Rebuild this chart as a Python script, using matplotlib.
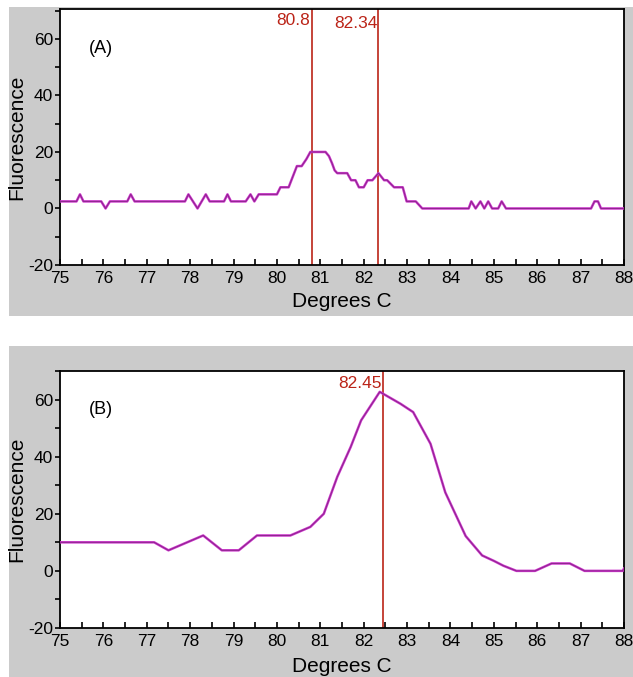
import matplotlib

matplotlib.use("Agg")
from matplotlib import pyplot as plt
from matplotlib.patches import Rectangle
from matplotlib.ticker import MultipleLocator

# Panel (A): stepped melt curve
A_TEMPS = [75.0, 75.38, 75.46, 75.54, 75.95, 76.05, 76.15, 76.55, 76.63, 76.72,
           77.88, 77.96, 78.17, 78.36, 78.45, 78.78, 78.86, 78.94, 79.28, 79.39,
           79.48, 79.58, 80.0, 80.08, 80.27, 80.46, 80.57, 80.68, 80.77, 81.12,
           81.2, 81.27, 81.33, 81.39, 81.62, 81.71, 81.81, 81.89, 82.0, 82.09,
           82.2, 82.34, 82.47, 82.54, 82.7, 82.9, 82.99, 83.2, 83.35, 84.42,
           84.48, 84.58, 84.69, 84.78, 84.87, 84.96, 85.1, 85.18, 85.28, 87.24,
           87.32, 87.4, 87.47, 88.0]
A_FLUOR = [2.5, 2.5, 5, 2.5, 2.5, 0, 2.5, 2.5, 5, 2.5,
           2.5, 5, 0, 5, 2.5, 2.5, 5, 2.5, 2.5, 5,
           2.5, 5, 5, 7.5, 7.5, 15, 15, 17.5, 20, 20,
           18.5, 16, 13.5, 12.5, 12.5, 10, 10, 7.5, 7.5, 10,
           10, 12.5, 10, 10, 7.5, 7.5, 2.5, 2.5, 0, 0,
           2.5, 0, 2.5, 0, 2.5, 0, 0, 2.5, 0, 0,
           2.5, 2.5, 0, 0]
A_MARKS = [80.8, 82.34]
A_MARK_LABELS = ['80.8', '82.34']

# Panel (B): smooth melt curve
B_TEMPS = [75.0, 77.17, 77.5, 78.3, 78.73, 79.12, 79.54, 80.31, 80.77, 81.08,
           81.39, 81.7, 81.94, 82.37, 82.45, 82.85, 83.14, 83.54, 83.88, 84.35,
           84.73, 85.0, 85.22, 85.52, 85.95, 86.33, 86.75, 87.09, 87.97, 88.0]
B_FLUOR = [10, 10, 7.2, 12.4, 7.2, 7.2, 12.4, 12.4, 15.4, 20,
           32.9, 43.4, 52.7, 62.7, 62, 58.5, 55.6, 44.5, 27.5, 12.2,
           5.4, 3.5, 1.8, 0, 0, 2.6, 2.6, 0, 0, 0.8]
B_MARKS = [82.45]
B_MARK_LABELS = ['82.45']

X_TICKS = list(range(75, 89))
Y_TICKS = [-20, 0, 20, 40, 60]

FONT = ['Liberation Sans', 'DejaVu Sans']
MARK_COLOR = '#bb2418'
LINE_COLOR = '#cc35cc'
GRAY = '#cbcbcb'


def draw_panel(ax, temps, fluor, marks, mark_labels, mark_y, tag, ylim_top):
    """
    Draw one melt curve panel
    :param ax: The axes to draw on
    :param temps: The temperatures
    :param fluor: The fluorescence values
    :param marks: Temperatures of the red marker lines
    :param mark_labels: Labels of the red marker lines
    :param mark_y: Heights of the marker labels
    :param tag: The panel tag
    :param ylim_top: Upper y limit
    """
    ax.set_zorder(2)
    ax.set_facecolor('white')
    ax.plot(temps, fluor, color=LINE_COLOR, lw=1.8, solid_joinstyle='round', zorder=3)
    ax.plot(temps, fluor, color='#301030', lw=0.7, alpha=0.4, zorder=4)

    for mark, label, y in zip(marks, mark_labels, mark_y):
        ax.axvline(mark, color=MARK_COLOR, lw=1.2, zorder=2)
        ax.text(mark - 0.03, y, label, color=MARK_COLOR, fontsize=12.5,
                ha='right', va='center', family=FONT)

    ax.text(75.95, 56.5, tag, fontsize=13, ha='center', va='center', family=FONT)

    ax.set_xlim(75, 88)
    ax.set_ylim(-20, ylim_top)
    ax.set_xticks(X_TICKS)
    ax.set_xticklabels([str(t) for t in X_TICKS], family=FONT, fontsize=12.5)
    ax.set_yticks(Y_TICKS)
    ax.set_yticklabels([str(t) for t in Y_TICKS], family=FONT, fontsize=12.5)
    ax.xaxis.set_minor_locator(MultipleLocator(0.5))
    ax.yaxis.set_minor_locator(MultipleLocator(10))
    ax.tick_params(axis='x', which='both', direction='in', length=4.5, width=1.2, pad=4)
    ax.tick_params(axis='y', which='both', direction='out', length=3.5, width=1.2, pad=1.5)

    for spine in ax.spines.values():
        spine.set_linewidth(1.3)
        spine.set_color('black')

    ax.set_xlabel('Degrees C', fontsize=15, family=FONT)
    ax.set_ylabel('Fluorescence', fontsize=15, family=FONT)
    ax.yaxis.label.set_va('center')
    ax.yaxis.set_label_coords(-0.076, 0.5)


fig = plt.figure(figsize=(6.33, 6.77), dpi=100)

# Gray panel backgrounds
fig.patches.append(Rectangle((0.0142, 0.5332), 0.9858, 0.4564, transform=fig.transFigure,
                             facecolor=GRAY, edgecolor='none', zorder=0))
fig.patches.append(Rectangle((0.0142, 0.0), 0.9858, 0.4889, transform=fig.transFigure,
                             facecolor=GRAY, edgecolor='none', zorder=0))

ax_a = fig.add_axes([0.0948, 0.6086, 0.8910, 0.3781])
draw_panel(ax_a, A_TEMPS, A_FLUOR, A_MARKS, A_MARK_LABELS, [66.4, 65.5], '(A)', 70.6)
ax_a.xaxis.label.set_va('center')
ax_a.xaxis.set_label_coords(0.5, -0.143)

ax_b = fig.add_axes([0.0948, 0.0724, 0.8910, 0.3796])
draw_panel(ax_b, B_TEMPS, B_FLUOR, B_MARKS, B_MARK_LABELS, [65.5], '(B)', 70)
ax_b.xaxis.label.set_va('center')
ax_b.xaxis.set_label_coords(0.5, -0.151)

fig.savefig('out.png', dpi=100)
